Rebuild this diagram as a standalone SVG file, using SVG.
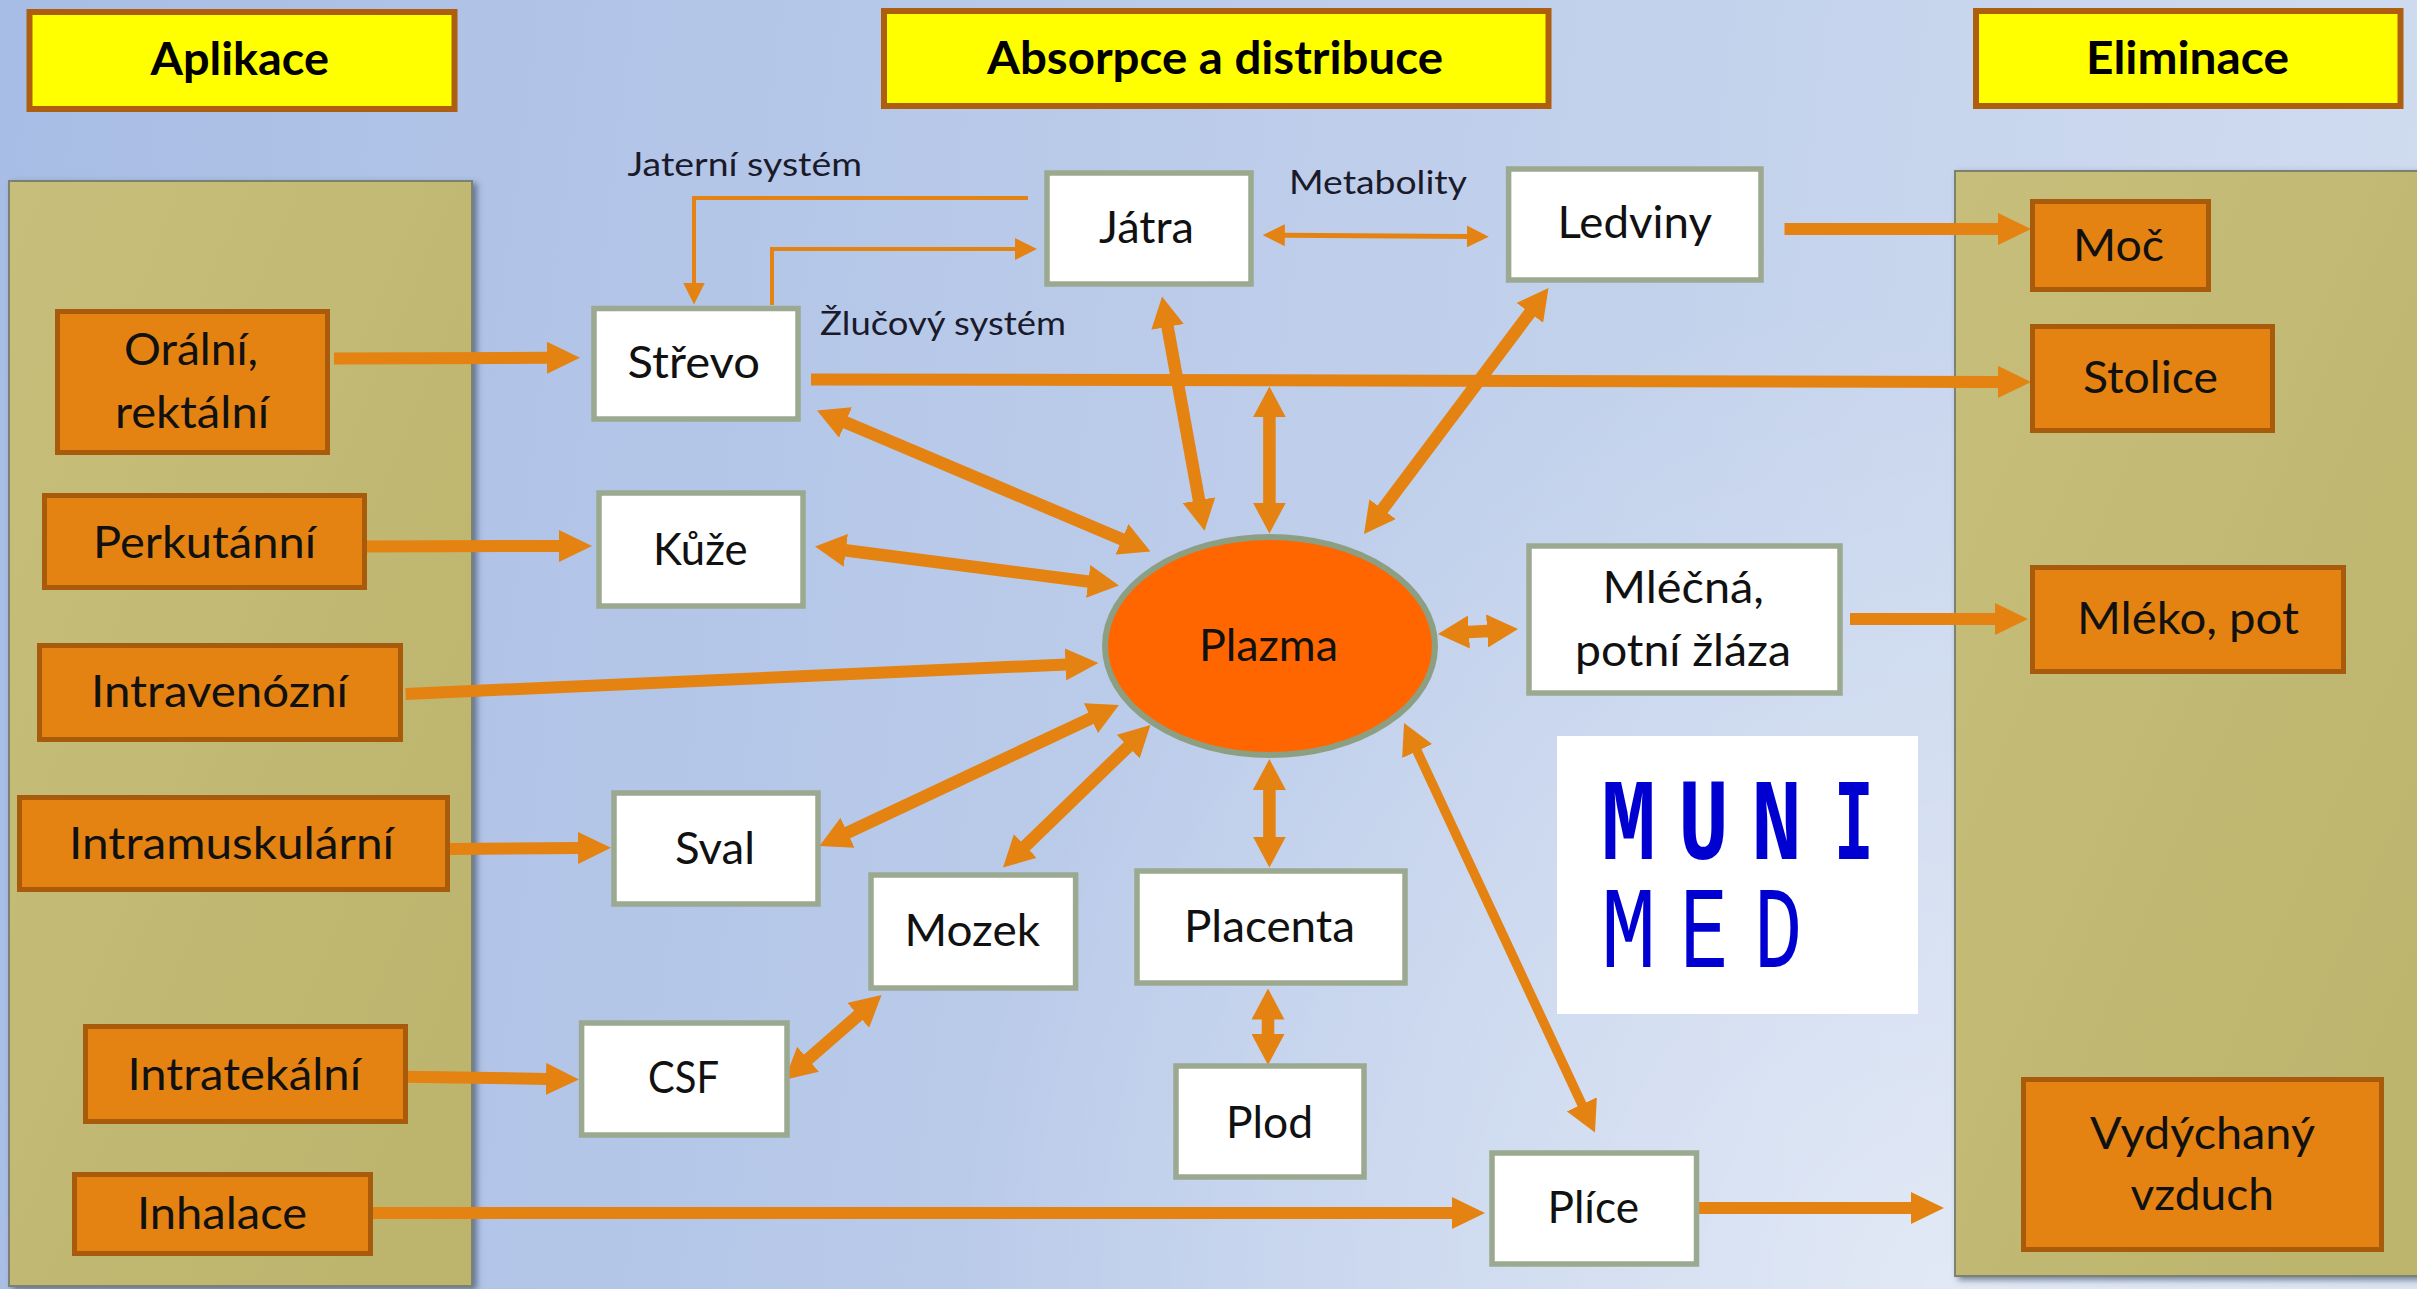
<svg xmlns="http://www.w3.org/2000/svg" width="2417" height="1289" viewBox="0 0 2417 1289">
<style>
text{font-family:Lato,"Liberation Sans",sans-serif;font-size:44px;fill:#111}
.h{font-weight:700;fill:#000;font-size:45px}
.s{font-size:33px;fill:#1a1a2a}
.y{fill:#ffff00;stroke:#ad5e0f;stroke-width:6}
.o{fill:#e48312;stroke:#a85c0b;stroke-width:5}
.w{fill:#fff;stroke:#9aa98f;stroke-width:5.5}
.p{fill:url(#pan);stroke:#7d8270;stroke-width:2;filter:url(#sh)}
.a{fill:none;stroke:#e48312}
.t{stroke-width:12;marker-end:url(#big)}
.d{stroke-width:12.5;marker-start:url(#mid);marker-end:url(#mid)}
.lg{font-family:"Liberation Mono",monospace;font-size:100px;fill:#0000d0}
.lb{font-weight:700}
</style>
<defs>
<linearGradient id="bg" gradientUnits="userSpaceOnUse" x1="0" y1="0" x2="2417" y2="300"><stop offset="0" stop-color="#a8bde5"/><stop offset="1" stop-color="#cfdbef"/></linearGradient>
<radialGradient id="glow" gradientUnits="userSpaceOnUse" cx="1950" cy="1289" r="1000"><stop offset="0" stop-color="#fff" stop-opacity=".45"/><stop offset="1" stop-color="#fff" stop-opacity="0"/></radialGradient>
<linearGradient id="pan" x1="0" y1="0" x2="1" y2="1"><stop offset="0" stop-color="#c6be7a"/><stop offset="1" stop-color="#bcb46c"/></linearGradient>
<filter id="sh" x="-5%" y="-5%" width="110%" height="110%"><feDropShadow dx="4" dy="3" stdDeviation="3" flood-color="#3b4a63" flood-opacity=".65"/></filter>
<marker id="big" markerUnits="userSpaceOnUse" markerWidth="33" markerHeight="32" refX="1" refY="16" orient="auto-start-reverse"><path d="M0,0L33,16L0,32z" fill="#e48312"/></marker>
<marker id="mid" markerUnits="userSpaceOnUse" markerWidth="31" markerHeight="33" refX="1" refY="16.5" orient="auto-start-reverse"><path d="M0,0L31,16.5L0,33z" fill="#e48312"/></marker>
<marker id="thin" markerUnits="userSpaceOnUse" markerWidth="22" markerHeight="22" refX="1" refY="11" orient="auto-start-reverse"><path d="M0,0L22,11L0,22z" fill="#e48312"/></marker>
</defs>
<rect id="background" width="2417" height="1289" fill="url(#bg)"/>
<rect id="background-glow" width="2417" height="1289" fill="url(#glow)"/>
<g id="panel-left"><rect class="p" x="9" y="181" width="463" height="1105"/></g>
<g id="panel-right"><rect class="p" x="1955" y="171" width="470" height="1105"/></g>
<g id="connectors">
<path class="a t" d="M334,358.6L548,357.8"/>
<path class="a t" d="M367,546.4L560,546"/>
<path class="a t" d="M405.6,694L1066.5,664.4"/>
<path class="a t" d="M450,849L579,848"/>
<path class="a t" d="M405,1076.7L547,1078.9"/>
<path class="a t" d="M372,1213L1453,1213"/>
<path class="a t" d="M1697,1208L1912,1208"/>
<path class="a t" d="M1784.5,229L1999,229"/>
<path class="a t" d="M811,379.4L1999,381.9"/>
<path class="a t" d="M1850,619L1996,619"/>
<path class="a d" d="M1167.4,325.9L1199.2,501.2"/>
<path class="a d" d="M1269.4,416.4L1269.4,503.6"/>
<path class="a d" d="M1530.5,312L1382,510"/>
<path class="a d" d="M844.6,422.1L1122.9,539.7"/>
<path class="a d" d="M844.8,550.2L1089.2,581.6"/>
<path class="a d" d="M1467.9,632.1L1488.1,630.9"/>
<path class="a d" d="M846.6,833.2L1091.8,717.8"/>
<path class="a d" d="M1024.6,846.7L1128.9,745.9"/>
<path class="a d" d="M1269.4,789L1269.4,837.6"/>
<path class="a d" d="M1268,1018.5L1268,1035"/>
<path class="a d" style="stroke-width:9.5" d="M1416.7,750.2L1582.3,1105.3"/>
<path class="a d" d="M807.3,1059.9L859,1014.7"/>
<path class="a" stroke-width="5" marker-start="url(#thin)" marker-end="url(#thin)" d="M1283.8,235.2L1467.8,236.5"/>
<path class="a" stroke-width="4" marker-end="url(#thin)" d="M1028,198H694V283.5"/>
<path class="a" stroke-width="4" marker-end="url(#thin)" d="M772,305V249H1016"/>
</g>
<g id="aplikace"><rect class="y" x="29.5" y="12" width="425" height="97"/><text class="h" x="150.5" y="74.6" textLength="178.5" lengthAdjust="spacingAndGlyphs">Aplikace</text></g>
<g id="absorpce"><rect class="y" x="884" y="11" width="664.5" height="95"/><text class="h" x="987" y="74" textLength="456" lengthAdjust="spacingAndGlyphs">Absorpce a distribuce</text></g>
<g id="eliminace"><rect class="y" x="1976" y="11" width="424.5" height="95"/><text class="h" x="2086" y="74" textLength="203" lengthAdjust="spacingAndGlyphs">Eliminace</text></g>
<g id="label-jaterni"><text class="s" x="627.5" y="176" textLength="234.5" lengthAdjust="spacingAndGlyphs">Jaterní systém</text></g>
<g id="label-metabolity"><text class="s" x="1289" y="194" textLength="178" lengthAdjust="spacingAndGlyphs">Metabolity</text></g>
<g id="label-zlucovy"><text class="s" x="820" y="335" textLength="246" lengthAdjust="spacingAndGlyphs">Žlučový systém</text></g>
<g id="oralni"><rect class="o" x="57.5" y="311.5" width="270" height="141"/><text x="124" y="365" textLength="134" lengthAdjust="spacingAndGlyphs">Orální,</text><text x="115" y="428" textLength="154" lengthAdjust="spacingAndGlyphs">rektální</text></g>
<g id="perkutanni"><rect class="o" x="44.5" y="495.5" width="320" height="92"/><text x="93" y="557.6" textLength="223" lengthAdjust="spacingAndGlyphs">Perkutánní</text></g>
<g id="intravenozni"><rect class="o" x="39.5" y="645.5" width="361" height="94"/><text x="91" y="707" textLength="257" lengthAdjust="spacingAndGlyphs">Intravenózní</text></g>
<g id="intramuskularni"><rect class="o" x="19.5" y="797.5" width="428" height="92"/><text x="69" y="859" textLength="325" lengthAdjust="spacingAndGlyphs">Intramuskulární</text></g>
<g id="intratekalni"><rect class="o" x="85.5" y="1026.5" width="320" height="95"/><text x="127.5" y="1090" textLength="233.5" lengthAdjust="spacingAndGlyphs">Intratekální</text></g>
<g id="inhalace"><rect class="o" x="74.5" y="1174.5" width="296" height="79"/><text x="137" y="1229" textLength="170" lengthAdjust="spacingAndGlyphs">Inhalace</text></g>
<g id="moc"><rect class="o" x="2032.5" y="201.5" width="176" height="88"/><text x="2073" y="261" textLength="91" lengthAdjust="spacingAndGlyphs">Moč</text></g>
<g id="stolice"><rect class="o" x="2032.5" y="326.5" width="240" height="104"/><text x="2083" y="393" textLength="135" lengthAdjust="spacingAndGlyphs">Stolice</text></g>
<g id="mleko"><rect class="o" x="2032.5" y="567.5" width="311" height="104"/><text x="2077" y="634" textLength="222" lengthAdjust="spacingAndGlyphs">Mléko, pot</text></g>
<g id="vzduch"><rect class="o" x="2023.5" y="1079.5" width="358" height="170"/><text x="2090" y="1149" textLength="225" lengthAdjust="spacingAndGlyphs">Vydýchaný</text><text x="2130.5" y="1210" textLength="143.5" lengthAdjust="spacingAndGlyphs">vzduch</text></g>
<g id="strevo"><rect class="w" x="594" y="308.5" width="204" height="110.5"/><text x="627.5" y="378" textLength="132.5" lengthAdjust="spacingAndGlyphs">Střevo</text></g>
<g id="kuze"><rect class="w" x="599" y="493" width="204" height="113"/><text x="653" y="565" textLength="94.5" lengthAdjust="spacingAndGlyphs">Kůže</text></g>
<g id="jatra"><rect class="w" x="1047" y="173" width="204" height="111"/><text x="1099" y="243" textLength="95" lengthAdjust="spacingAndGlyphs">Játra</text></g>
<g id="ledviny"><rect class="w" x="1508.6" y="169" width="252.4" height="111"/><text x="1557.6" y="238" textLength="154.4" lengthAdjust="spacingAndGlyphs">Ledviny</text></g>
<g id="mlecna"><rect class="w" x="1529" y="546" width="311" height="147"/><text x="1602.6" y="603" textLength="161.4" lengthAdjust="spacingAndGlyphs">Mléčná,</text><text x="1575" y="665.7" textLength="216" lengthAdjust="spacingAndGlyphs">potní žláza</text></g>
<g id="sval"><rect class="w" x="614" y="793" width="204" height="111"/><text x="675" y="863.5" textLength="80" lengthAdjust="spacingAndGlyphs">Sval</text></g>
<g id="mozek"><rect class="w" x="871" y="875" width="204.6" height="113"/><text x="904.6" y="945.5" textLength="135.4" lengthAdjust="spacingAndGlyphs">Mozek</text></g>
<g id="placenta"><rect class="w" x="1137" y="871" width="268" height="112"/><text x="1184" y="942" textLength="171" lengthAdjust="spacingAndGlyphs">Placenta</text></g>
<g id="plod"><rect class="w" x="1176" y="1066" width="188" height="111"/><text x="1226" y="1137.5" textLength="87" lengthAdjust="spacingAndGlyphs">Plod</text></g>
<g id="plice"><rect class="w" x="1492" y="1153" width="204.5" height="111"/><text x="1547.5" y="1223" textLength="91.5" lengthAdjust="spacingAndGlyphs">Plíce</text></g>
<g id="csf"><rect class="w" x="581.6" y="1023" width="205.4" height="112"/><text x="648" y="1093" textLength="71" lengthAdjust="spacingAndGlyphs">CSF</text></g>
<g id="plazma"><ellipse cx="1270" cy="646" rx="165" ry="109" fill="#ff6600" stroke="#8d9f82" stroke-width="6"/><text x="1199" y="660.7" textLength="139" lengthAdjust="spacingAndGlyphs">Plazma</text></g>
<g id="logo"><rect x="1557" y="736" width="361" height="278" fill="#fff"/>
<text class="lg lb" transform="translate(1601,859) scale(.92,1.16)">M</text>
<text class="lg lb" transform="translate(1678,859) scale(.85,1.16)">U</text>
<text class="lg lb" transform="translate(1751,859) scale(.85,1.16)">N</text>
<text class="lg lb" transform="translate(1834,859) scale(.66,1.16)">I</text>
<text class="lg" transform="translate(1601,967) scale(.92,1.16)">M</text>
<text class="lg" transform="translate(1680,967) scale(.8,1.16)">E</text>
<text class="lg" transform="translate(1754,967) scale(.8,1.16)">D</text>
</g>
</svg>
